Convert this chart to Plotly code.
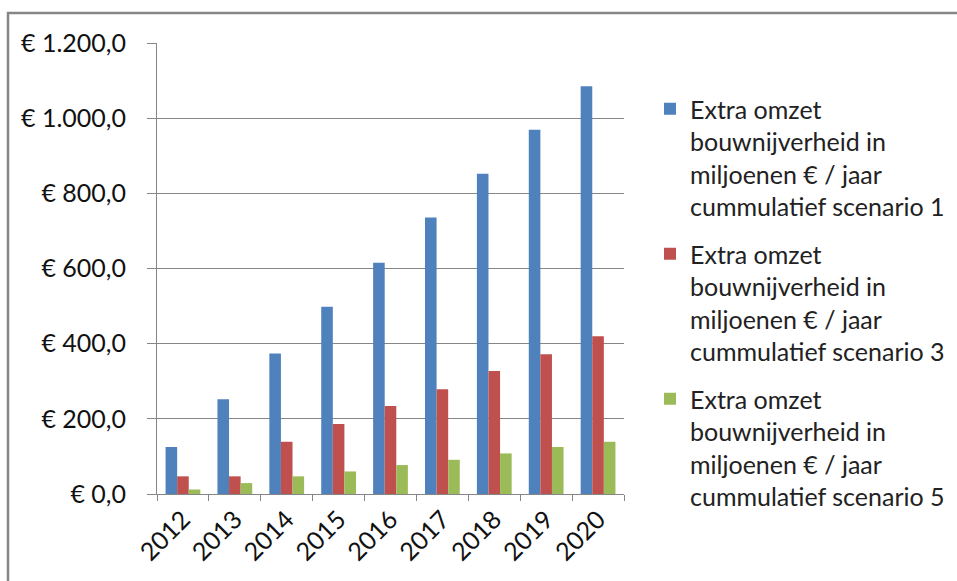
import plotly.graph_objects as go

# Years on the category axis
years = ["2012", "2013", "2014", "2015", "2016", "2017", "2018", "2019", "2020"]

# Extra turnover in the construction sector, millions of euro per year (cumulative)
scenario_1 = [125, 252, 374, 498, 615, 736, 852, 969, 1085]
scenario_3 = [47, 47, 139, 186, 234, 279, 327, 372, 420]
scenario_5 = [12, 29, 47, 60, 77, 91, 108, 125, 139]

series_names = [
    "Extra omzet<br>bouwnijverheid in<br>miljoenen € / jaar<br>cummulatief scenario 1",
    "Extra omzet<br>bouwnijverheid in<br>miljoenen € / jaar<br>cummulatief scenario 3",
    "Extra omzet<br>bouwnijverheid in<br>miljoenen € / jaar<br>cummulatief scenario 5",
]
series_colors = ["#4F81BD", "#C0504D", "#9BBB59"]

tick_values = [0, 200, 400, 600, 800, 1000, 1200]
tick_labels = ["€ 0,0", "€ 200,0", "€ 400,0", "€ 600,0", "€ 800,0", "€ 1.000,0", "€ 1.200,0"]

W, H = 957, 581
L, R, T, B = 157, 333, 43, 87
FONT = "Lato"
FS = 25

fig = go.Figure()
for i, (name, vals, col) in enumerate(zip(series_names, [scenario_1, scenario_3, scenario_5], series_colors)):
    fig.add_trace(go.Bar(x=years, y=vals, name=name, legendgroup=f"g{i}",
                         marker=dict(color=col, line=dict(width=0))))

pw = W - L - R
ph = H - T - B

def px_x(p):
    return (p - L) / pw

def px_y(p):
    return (H - B - p) / ph

fig.update_layout(
    width=W, height=H,
    margin=dict(l=L, r=R, t=T, b=B, autoexpand=False),
    paper_bgcolor="white", plot_bgcolor="white",
    barmode="group", bargap=0.33, bargroupgap=0,
    font=dict(family=FONT, size=FS, color="#222222"),
    showlegend=True,
    legend=dict(
        x=px_x(650), y=px_y(86), xanchor="left", yanchor="top",
        font=dict(family=FONT, size=FS, color="#222222"),
        valign="top", tracegroupgap=12, itemwidth=30,
        bgcolor="rgba(0,0,0,0)",
    ),
    shapes=[
        dict(type="rect", xref="paper", yref="paper",
             x0=px_x(8), x1=px_x(990), y0=px_y(13), y1=px_y(620),
             line=dict(color="#868686", width=2.5), layer="below"),
    ],
)

fig.update_xaxes(
    type="category", tickson="boundaries", ticks="outside", ticklen=6,
    tickcolor="#868686", showline=True, linecolor="#868686", linewidth=1,
    tickangle=-45, showgrid=False,
    tickfont=dict(family=FONT, size=FS, color="#111111"),
)
fig.update_yaxes(
    range=[0, 1200], tickvals=tick_values, ticktext=tick_labels,
    ticks="outside", ticklen=9, tickcolor="#868686",
    showline=True, linecolor="#868686", linewidth=1,
    showgrid=True, gridcolor="#868686", gridwidth=1, zeroline=False,
    ticklabelstandoff=16,
    tickfont=dict(family=FONT, size=FS, color="#111111"),
)

fig.write_html("out.html")
